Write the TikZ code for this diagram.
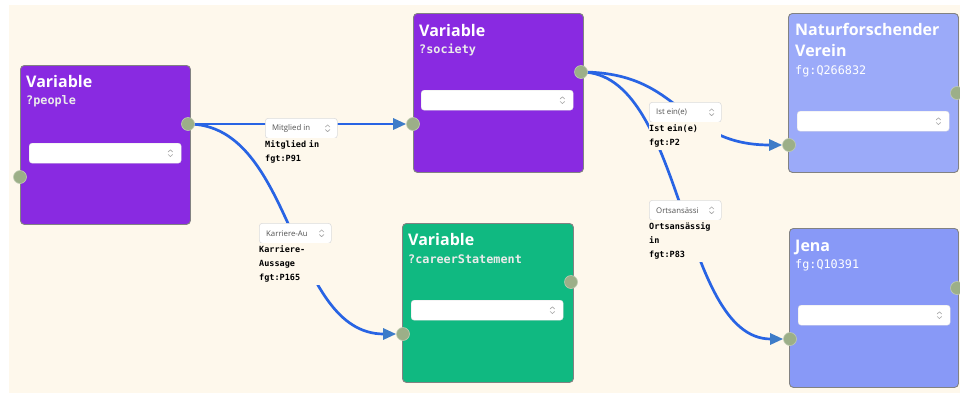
\documentclass[tikz,border=0pt]{standalone}
\usepackage{fontspec}
\newfontfamily\uisans{Open Sans}
\newfontfamily\uimono{DejaVu Sans Mono}
\usetikzlibrary{arrows.meta}

\definecolor{canvas}{RGB}{254,248,236}
\definecolor{varpurple}{RGB}{137,42,225}
\definecolor{vargreen}{RGB}{16,185,129}
\definecolor{entitylight}{RGB}{155,170,249}
\definecolor{entitydeep}{RGB}{136,153,247}
\definecolor{cardedge}{RGB}{130,130,130}
\definecolor{portfill}{RGB}{156,175,136}
\definecolor{linkblue}{RGB}{40,100,228}
\definecolor{tipblue}{RGB}{62,124,200}
\definecolor{boxedge}{RGB}{220,220,220}
\definecolor{chevgray}{RGB}{165,165,165}

\pgfdeclarelayer{backdrop}
\pgfdeclarelayer{cards}
\pgfdeclarelayer{links}
\pgfsetlayers{backdrop,cards,links,main}

\begin{document}
\begin{tikzpicture}[x=1pt,y=-1pt,
  card/.style={anchor=north west, rectangle, rounded corners=4pt, draw=cardedge,
    line width=0.9pt, inner sep=0pt},
  cardtitle/.style={anchor=base west, inner sep=0pt, text=white,
    font=\uisans\bfseries\fontsize{16}{19}\selectfont},
  cardsub/.style={anchor=base west, inner sep=0pt, text=white!92!black,
    font=\uimono\bfseries\fontsize{11.8}{14}\selectfont},
  entitysub/.style={anchor=base west, inner sep=0pt, text=white,
    font=\uimono\fontsize{11.8}{14}\selectfont},
  dropbox/.style={anchor=north west, rectangle, rounded corners=3pt, fill=white,
    draw=white!88!black, line width=0.4pt, minimum width=152pt, minimum height=20pt,
    inner sep=0pt},
  port/.style={circle, fill=portfill, draw=portfill!65!white, line width=0.6pt,
    minimum size=13pt, inner sep=0pt},
  link/.style={draw=linkblue, line width=2.7pt},
  linkend/.style={-{Triangle[length=13pt,width=11pt,color=tipblue]}},
  linkbox/.style={anchor=north west, rectangle, rounded corners=3pt, fill=white,
    draw=boxedge, line width=0.6pt, minimum width=72pt, minimum height=20pt,
    inner sep=0pt},
  linkboxtext/.style={anchor=west, inner sep=0pt, text=black!68,
    font=\uisans\fontsize{7.8}{9}\selectfont},
  linkcaption/.style={anchor=north west, fill=canvas, align=left, text width=72pt,
    inner xsep=0pt, inner ysep=2.4pt,
    font=\uimono\bfseries\fontsize{8.5}{14}\selectfont},
  chevron/.style={draw=chevgray, line width=0.6pt, line cap=round, line join=round},
  updown/.pic={
    \draw[chevron] (-2.2,-1.3) -- (0,-3.4) -- (2.2,-1.3);
    \draw[chevron] (-2.2,1.3) -- (0,3.4) -- (2.2,1.3);
  }]

\useasboundingbox (0,0) rectangle (960,394);
\begin{pgfonlayer}{backdrop}
  \fill[canvas] (9,5) rectangle (960,393);
\end{pgfonlayer}

% cards with their titles and selection fields
\begin{pgfonlayer}{cards}
  \node[card, fill=varpurple, minimum width=170pt, minimum height=159pt] (people) at (20,65) {};
  \node[card, fill=varpurple, minimum width=170pt, minimum height=159pt] (society) at (413,13) {};
  \node[card, fill=vargreen, minimum width=171pt, minimum height=159pt] (career) at (402,223) {};
  \node[card, fill=entitylight, minimum width=170pt, minimum height=159pt] (natur) at (788,13) {};
  \node[card, fill=entitydeep, minimum width=169pt, minimum height=159pt] (jena) at (789,228) {};

  \node[cardtitle] (peopleT) at (26,87) {Variable};
  \node[cardsub] (peopleS) at (26,104) {?people};
  \node[cardtitle] (societyT) at (419,36) {Variable};
  \node[cardsub] (societyS) at (419,53) {?society};
  \node[cardtitle] (careerT) at (408,245) {Variable};
  \node[cardsub] (careerS) at (408,263) {?careerStatement};
  \node[cardtitle] (naturT) at (795,35) {Naturforschender};
  \node[cardtitle] (naturU) at (795,56) {Verein};
  \node[entitysub] (naturS) at (795,74) {fg:Q266832};
  \node[cardtitle] (jenaT) at (795,251) {Jena};
  \node[entitysub] (jenaS) at (795,268) {fg:Q10391};

  \node[dropbox] (peopleDD) at (29,143) {};
  \node[dropbox] (societyDD) at (421,90) {};
  \node[dropbox] (careerDD) at (411,300) {};
  \node[dropbox] (naturDD) at (797,111) {};
  \node[dropbox] (jenaDD) at (798,305) {};
  \foreach \dd in {peopleDD,societyDD,careerDD,naturDD,jenaDD}
    \pic at ([xshift=-11pt]\dd.east) {updown};
\end{pgfonlayer}

% connection ports
\node[port] (peopleOut) at (188,124) {};
\node[port] (peopleIn) at (20,177) {};
\node[port] (societyOut) at (581,72) {};
\node[port] (societyIn) at (413,124) {};
\node[port] (careerOut) at (571,282) {};
\node[port] (careerIn) at (403,334) {};
\node[port] (naturOut) at (957,93) {};
\node[port] (naturIn) at (789,145) {};
\node[port] (jenaOut) at (957,288) {};
\node[port] (jenaIn) at (790,339) {};

% property links
\begin{pgfonlayer}{links}
  \draw[link, linkend] (peopleOut.center) -- (societyIn.west);
  \draw[link, linkend] (peopleOut.center) .. controls +(107,0) and +(-107,0) .. (careerIn.west);
  \draw[link, linkend] (societyOut.center) .. controls +(103,0) and +(-103,0) .. (naturIn.west);
  \draw[link, linkend] (societyOut.center) .. controls +(104,0) and +(-104,0) .. (jenaIn.west);
\end{pgfonlayer}

% property selectors and captions
\node[linkbox] (memberBox) at (265,118) {};
\node[linkboxtext] (memberBoxT) at ([xshift=7pt]memberBox.west) {Mitglied in};
\pic at ([xshift=-10pt]memberBox.east) {updown};
\node[linkcaption] (memberCap) at (265,138) {Mitglied in\\fgt:P91};

\node[linkbox] (careerBox) at (259,223) {};
\node[linkboxtext] (careerBoxT) at ([xshift=7pt]careerBox.west) {Karriere-Au};
\pic at ([xshift=-10pt]careerBox.east) {updown};
\node[linkcaption] (careerCap) at (259,243) {Karriere-\\Aussage\\fgt:P165};

\node[linkbox] (isaBox) at (649,102) {};
\node[linkboxtext] (isaBoxT) at ([xshift=7pt]isaBox.west) {Ist ein(e)};
\pic at ([xshift=-10pt]isaBox.east) {updown};
\node[linkcaption] (isaCap) at (649,122) {Ist ein(e)\\fgt:P2};

\node[linkbox] (residentBox) at (649,200) {};
\node[linkboxtext] (residentBoxT) at ([xshift=7pt]residentBox.west) {Ortsansässi};
\pic at ([xshift=-10pt]residentBox.east) {updown};
\node[linkcaption] (residentCap) at (649,220) {Ortsansässig\\in\\fgt:P83};

\end{tikzpicture}
\end{document}
